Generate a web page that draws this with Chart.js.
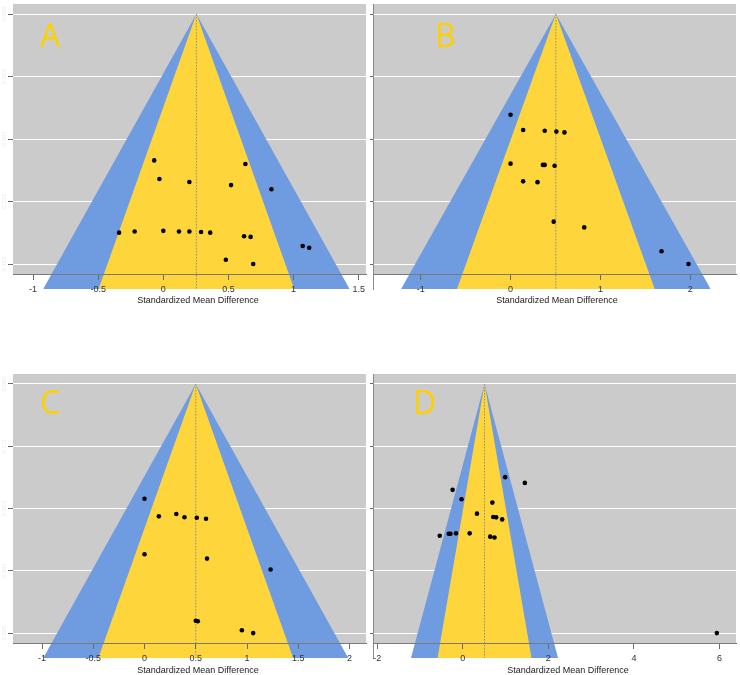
<!DOCTYPE html>
<html>
<head>
<meta charset="utf-8">
<script src="https://cdn.jsdelivr.net/npm/chart.js@4.4.1/dist/chart.umd.min.js"></script>
<style>
  html, body { margin: 0; padding: 0; background: #fff; overflow: hidden; }
  #wrap { position: relative; width: 740px; height: 675px; }
  #wrap canvas { position: absolute; }
</style>
</head>
<body>
<div id="wrap">
  <canvas id="panelA"></canvas>
  <canvas id="panelB"></canvas>
  <canvas id="panelC"></canvas>
  <canvas id="panelD"></canvas>
</div>
<script>
// funnel plots, 90% (yellow) and 99% (blue) contours
const panelLetters = ['A', 'B', 'C', 'D'];
const pooledEst = [0.254, 0.504, 0.5, 0.507];
const maxSE = [0.415, 0.608, 0.525, 0.607];
const contourZ = [1.645, 2.576];

const xTicksA = [-1, -0.5, 0, 0.5, 1, 1.5];
const xTicksB = [-1, 0, 1, 2];
const xTicksC = [-1, -0.5, 0, 0.5, 1, 1.5, 2];
const xTicksD = [-2, 0, 2, 4, 6];

const smdA = [-0.07, 0.63, -0.03, 0.20, 0.52, 0.83, -0.34, -0.22, 0.00, 0.12, 0.20, 0.29, 0.36, 0.62, 0.67, 1.07, 1.12, 0.48, 0.69];
const seA  = [0.243, 0.249, 0.274, 0.279, 0.284, 0.291, 0.363, 0.361, 0.360, 0.361, 0.361, 0.362, 0.363, 0.369, 0.370, 0.385, 0.388, 0.408, 0.415];

const smdB = [0.00, 0.14, 0.38, 0.51, 0.60, 0.00, 0.36, 0.38, 0.49, 0.14, 0.30, 0.48, 0.82, 1.68, 1.98];
const seB  = [0.245, 0.282, 0.284, 0.286, 0.288, 0.364, 0.367, 0.367, 0.369, 0.407, 0.409, 0.505, 0.519, 0.577, 0.608];

const smdC = [0.00, 0.14, 0.31, 0.39, 0.51, 0.60, 0.00, 0.61, 1.23, 0.50, 0.52, 0.95, 1.06];
const seC  = [0.242, 0.279, 0.274, 0.281, 0.282, 0.284, 0.359, 0.368, 0.391, 0.499, 0.500, 0.519, 0.525];

const smdD = [0.99, 1.45, -0.24, -0.03, 0.69, 0.33, 0.71, 0.78, 0.92, -0.54, -0.33, -0.29, -0.16, 0.16, 0.64, 0.74, 5.94];
const seD  = [0.227, 0.241, 0.258, 0.281, 0.289, 0.316, 0.324, 0.325, 0.330, 0.370, 0.365, 0.365, 0.364, 0.364, 0.372, 0.374, 0.607];

const xTitle = 'Standardized Mean Difference';

// page layout of the four canvases
const layout = [
  { id: 'panelA', left: 0,   top: 0,   w: 370, h: 323, yw: 13, tl: 5, padRight: 0, xMin: -1.154, xMax: 1.556, yLabels: true,  yBorder: false, titleX: 185, letter: [27, 43] },
  { id: 'panelB', left: 368, top: 0,   w: 372, h: 323, yw: 5,  tl: 3, padRight: 2, xMin: -1.531, xMax: 2.509, yLabels: false, yBorder: true,  titleX: 184, letter: [62, 43] },
  { id: 'panelC', left: 0,   top: 370, w: 370, h: 322, yw: 13, tl: 5, padRight: 0, xMin: -1.283, xMax: 2.161, yLabels: true,  yBorder: false, titleX: 185, letter: [27, 40.4] },
  { id: 'panelD', left: 368, top: 370, w: 372, h: 322, yw: 5,  tl: 3, padRight: 2, xMin: -2.101, xMax: 6.388, yLabels: false, yBorder: true,  titleX: 195, letter: [40, 40.4] }
];
const xTicksList = [xTicksA, xTicksB, xTicksC, xTicksD];
const smdList = [smdA, smdB, smdC, smdD];
const seList = [seA, seB, seC, seD];

const FONT = '"Liberation Sans", Arial, sans-serif';
const GREY = '#cbcbcb';
const BLUE = '#6f9be1';
const YELLOW = '#fed53a';

const plotBg = {
  id: 'plotBg',
  beforeDraw(chart, args, opts) {
    const { ctx, chartArea } = chart;
    const yb = chart.scales.y.getPixelForValue(opts.to);
    ctx.save();
    ctx.fillStyle = GREY;
    ctx.fillRect(chartArea.left, chartArea.top, chartArea.right - chartArea.left, yb - chartArea.top);
    ctx.restore();
  }
};

const extras = {
  id: 'extras',
  afterDraw(chart, args, opts) {
    const { ctx, chartArea } = chart;
    ctx.save();
    // panel letter
    ctx.fillStyle = '#ffd000';
    ctx.font = '32px "Open Sans", sans-serif';
    ctx.textBaseline = 'alphabetic';
    ctx.fillText(opts.letter, chartArea.left + opts.lx, chartArea.top + opts.ly);
    // x axis title under the axis line
    ctx.fillStyle = '#222';
    ctx.font = '9px ' + FONT;
    ctx.textAlign = 'center';
    ctx.textBaseline = 'middle';
    ctx.fillText(xTitle, chartArea.left + opts.titleX, chart.scales.y.getPixelForValue(opts.axisAt) + 27);
    // faint y labels
    if (opts.yLabels) {
      const y = chart.scales.y;
      ctx.fillStyle = '#ececec';
      ctx.font = '6px ' + FONT;
      y.ticks.forEach(t => {
        ctx.save();
        ctx.translate(4, y.getPixelForValue(t.value));
        ctx.rotate(-Math.PI / 2);
        ctx.fillText(t.value.toFixed(3), 0, 0);
        ctx.restore();
      });
    }
    ctx.restore();
  }
};

const noPad = (s) => {
  s.paddingLeft = 0; s.paddingRight = 0; s.paddingTop = 0; s.paddingBottom = 0;
};

layout.forEach((p, i) => {
  const canvas = document.getElementById(p.id);
  canvas.width = p.w;
  canvas.height = p.h;
  canvas.style.left = p.left + 'px';
  canvas.style.top = p.top + 'px';

  const m = maxSE[i];
  const c = pooledEst[i];
  const bottom = m * 1.1;
  const axisAt = m * 1.04;
  const yTicks = [0, m / 4, m / 2, 3 * m / 4, m];

  const tri = (z) => [
    { x: c - z * bottom, y: bottom },
    { x: c, y: 0 },
    { x: c + z * bottom, y: bottom }
  ];

  new Chart(canvas, {
    type: 'scatter',
    data: {
      datasets: [
        {
          type: 'line', data: tri(contourZ[1]), backgroundColor: BLUE, borderWidth: 0,
          pointRadius: 0, fill: 'start', order: 3, tension: 0
        },
        {
          type: 'line', data: tri(contourZ[0]), backgroundColor: YELLOW, borderWidth: 0,
          pointRadius: 0, fill: 'start', order: 2, tension: 0
        },
        {
          type: 'line', data: [{ x: c, y: 0 }, { x: c, y: bottom }], borderColor: '#8c8c8c',
          borderWidth: 1, borderDash: [1.5, 1.5], pointRadius: 0, fill: false, order: 1
        },
        {
          type: 'scatter',
          data: smdList[i].map((v, k) => ({ x: v, y: seList[i][k] })),
          backgroundColor: '#000', borderWidth: 0, pointRadius: 2.3, order: 0
        }
      ]
    },
    options: {
      responsive: false,
      animation: false,
      events: [],
      layout: { padding: { top: 0, right: p.padRight, left: 0, bottom: 34 } },
      plugins: {
        legend: { display: false },
        tooltip: { enabled: false },
        plotBg: { to: axisAt },
        extras: { letter: panelLetters[i], lx: p.letter[0], ly: p.letter[1], yLabels: p.yLabels, titleX: p.titleX, axisAt: axisAt }
      },
      scales: {
        x: {
          type: 'linear',
          position: { y: axisAt },
          min: p.xMin,
          max: p.xMax,
          afterBuildTicks: (s) => { s.ticks = xTicksList[i].map(v => ({ value: v })); },
          afterFit: noPad,
          ticks: {
            z: 1, color: '#333', padding: 5, maxRotation: 0, autoSkip: false,
            font: { family: FONT, size: 9 },
            callback: (v) => String(v)
          },
          grid: { display: true, drawOnChartArea: false, drawTicks: true, tickLength: 5, tickColor: '#6a6a6a', z: 1 },
          border: { display: true, color: '#7a7a7a', width: 1, z: 1 },
          title: { display: false }
        },
        y: {
          type: 'linear',
          reverse: true,
          min: -m * 0.04,
          max: bottom,
          afterBuildTicks: (s) => { s.ticks = yTicks.map(v => ({ value: v })); },
          afterFit: (s) => { noPad(s); s.width = p.yw; },
          ticks: { display: false },
          grid: { color: '#ffffff', lineWidth: 1, drawTicks: true, tickLength: p.tl, tickColor: '#6a6a6a' },
          border: { display: p.yBorder, color: '#8a8a8a', width: 1 }
        }
      }
    },
    plugins: [plotBg, extras]
  });
});
</script>
</body>
</html>
